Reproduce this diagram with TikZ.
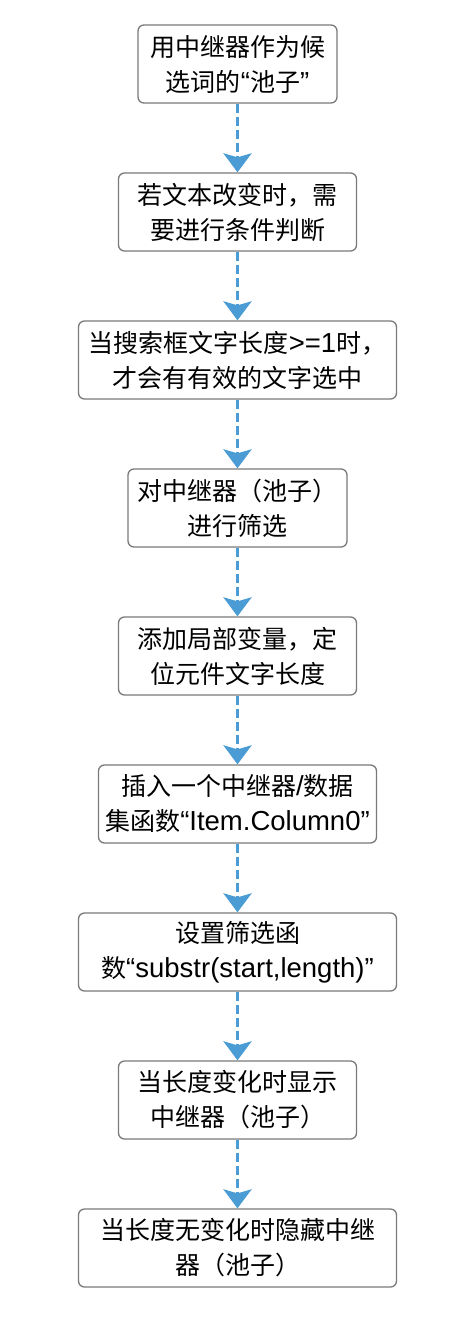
\documentclass[tikz,border=0pt]{standalone}
\usepackage{fontspec}
\setmainfont{Liberation Sans}[Scale=1.1]
\newfontfamily\cjk{Noto Sans CJK SC}
\newcommand{\zh}[1]{{\cjk #1}}
\usetikzlibrary{arrows.meta}
\definecolor{arrowblue}{RGB}{75,155,213}
\definecolor{boxgray}{RGB}{122,122,122}
\tikzset{
  box/.style={draw=boxgray, line width=1.3pt, rounded corners=6pt, fill=white,
    minimum height=78pt, align=center, inner sep=0pt, text=black,
    font=\fontsize{25}{35}\selectfont},
  flow/.style={draw=arrowblue, line width=3pt, dash pattern=on 9pt off 4pt,
    -{Stealth[length=19pt, width=28pt, inset=4pt]}},
}
\begin{document}
\begin{tikzpicture}[x=1pt, y=-1pt]
\fill[white] (0,0) rectangle (472,1324);
\useasboundingbox (0,0) rectangle (472,1324);
\node[box, minimum width=199pt] (b1) at (237.5,64) {\zh{用中继器作为候}\\\zh{选词的}“\zh{池子}”};
\node[box, minimum width=238pt] (b2) at (237.5,212) {\zh{若文本改变时，需}\\\zh{要进行条件判断}};
\node[box, minimum width=318pt] (b3) at (237.5,360) {\zh{当搜索框文字长度}>=1\zh{时，}\\\zh{才会有有效的文字选中}};
\node[box, minimum width=219pt] (b4) at (237.5,508) {\zh{对中继器（池子）}\\\zh{进行筛选}};
\node[box, minimum width=238pt] (b5) at (237.5,656) {\zh{添加局部变量，定}\\\zh{位元件文字长度}};
\node[box, minimum width=278pt] (b6) at (237.5,804) {\zh{插入一个中继器}/\zh{数据}\\\zh{集函数}“Item.Column0”};
\node[box, minimum width=318pt] (b7) at (237.5,952) {\zh{设置筛选函}\\\zh{数}“substr(start,length)”};
\node[box, minimum width=238pt] (b8) at (237.5,1100) {\zh{当长度变化时显示}\\\zh{中继器（池子）}};
\node[box, minimum width=318pt] (b9) at (237.5,1248) {\zh{当长度无变化时隐藏中继}\\\zh{器（池子）}};
\foreach \a/\b in {b1/b2,b2/b3,b3/b4,b4/b5,b5/b6,b6/b7,b7/b8,b8/b9}
  \draw[flow] (\a.south) -- (\b.north);
\end{tikzpicture}
\end{document}
